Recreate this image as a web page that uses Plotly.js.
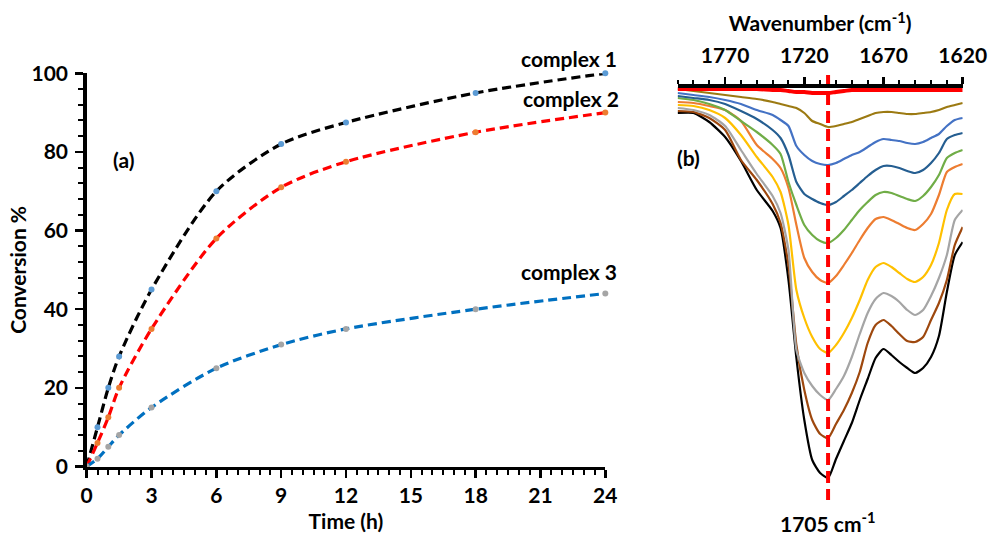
<!DOCTYPE html>
<html>
<head>
<meta charset="utf-8">
<script src="https://cdn.plot.ly/plotly-3.0.1.min.js"></script>
<style>html,body{margin:0;padding:0;background:#fff;}#chart{width:990px;height:539px;}</style>
</head>
<body>
<div id="chart"></div>
<script>
// ---------- Panel (a): conversion vs time ----------
const timeH = [0, 0.5, 1, 1.5, 3, 6, 9, 12, 18, 24];
const complex1 = [0, 10, 20, 28, 45, 70, 82, 87.5, 95, 100];
const complex2 = [0, 6, 12.5, 20, 35, 58, 71, 77.5, 85, 90];
const complex3 = [0, 2, 5, 8, 15, 25, 31, 35, 40, 44];
const seriesNames = ["complex 1", "complex 2", "complex 3"];

// ---------- Panel (b): IR spectra (arbitrary transmittance units) ----------
const wavenumber = [1800,1790,1780,1770,1760,1750,1740,1735,1730,1725,1720,1715,1710,1705,1700,1695,1690,1685,1680,1675,1670,1665,1660,1655,1650,1645,1640,1635,1630,1625,1620];
const specRed    = [98.75,98.75,98.75,98.75,98.75,98.75,98.5,98.5,98.25,98,98,97.75,97.75,97.75,98,98.25,98.5,98.5,98.5,98.5,98.5,98.5,98.5,98.5,98.5,98.5,98.5,98.5,98.5,98.5,98.5];
const specOlive  = [98.75,98.25,97.75,97.25,96.75,96.25,95.5,95,94.5,94,92.75,90.75,90,89.25,89.5,90,90.5,91.25,92,92.75,93,93,92.75,92.5,92.5,92.75,93,93.5,94.25,94.75,95.25];
const specLBlue  = [97.75,97.25,96.75,96,95,93.5,92.25,91,89.5,84.5,82.25,80.75,80,79.75,80.25,81.25,82.25,83,84.25,85.5,86.25,86,85.75,85.25,85,85.5,86.5,87.5,89.5,91,91.5];
const specDBlue  = [97,96.5,96,95,93.25,91.25,88.5,86.5,82.25,75.5,72.5,71.25,70.25,69.75,70.5,72,73.5,75.25,77,78.5,79.5,79.5,79,78.25,77.75,78.5,80.25,82.75,86.25,87.25,87.75];
const specGreen  = [96.5,96,95,93.5,90.75,88,84.75,82.5,75.5,69.75,64.75,62.25,60.75,60.25,61.5,63.5,66,68.5,70.5,72.25,73,72.75,72,71.25,70.75,72,74.25,77.25,81.5,82.75,83.5];
const specOrange = [95.5,95.25,94.5,93.5,90.75,84.75,81.25,79,74,64.75,56.5,53,51,50.25,52,54.75,57.75,61,64,66.25,66.75,66,65,64,63.5,65,67.5,72.25,78,79.25,80];
const specYellow = [94.75,94.5,93.5,91.5,87.25,81.75,76.75,73,64.75,48.5,41.5,36.75,33.75,32.75,34.75,37.75,41.5,46,51,54.25,55.25,54.25,52.75,51.25,50.5,51.75,54.75,60.25,68.5,72.5,72.5];
const specGray   = [94,93.5,92.25,89.5,83.5,77.5,72,67.75,58.5,33.5,27.75,24.5,22.25,21,23.75,27,31.75,37.5,42.75,46.25,47.75,47,45.5,43.5,42.25,43.5,47,51.5,57.25,66,68.5];
const specBrown  = [93.25,93,91.5,88.5,81,76,70,65.25,54.75,34.75,23.5,16,12.5,11.5,15,18.5,22.75,28,35.25,39.75,41,39.5,37.5,35.75,35.5,36.75,41,45.25,51,59.75,64.25];
const specBlack  = [92.75,92.75,90.5,86.75,80.75,73.5,68.25,64,51,31.5,16,6,2.75,1.5,6.25,10.75,15.25,21,26.25,31.5,33.75,32.25,30.5,29,27.75,29,31.75,37,48,57.25,60.5];
const peakWavenumber = 1705;
const peakLine = [102.25, -4];
const xTicksB = [1770, 1720, 1670, 1620];

const FONT = "Lato, 'Open Sans', sans-serif";
const bold = (s) => ({family: FONT, size: s, color: "#000", weight: 700});

const traces = [];
const lineColors = ["#000000", "#FF0000", "#0070C0"];
const markerColors = ["#5B9BD5", "#ED7D31", "#A5A5A5"];
[complex1, complex2, complex3].forEach((ys, i) => {
  traces.push({
    x: timeH, y: ys, name: seriesNames[i], type: "scatter", mode: "lines+markers",
    line: {color: lineColors[i], width: 3.2, dash: "9px,5px", shape: "spline", smoothing: 0.8},
    marker: {color: markerColors[i], size: 6},
    xaxis: "x", yaxis: "y", cliponaxis: false
  });
});

const specs = [
  [specBlack, "#000000"], [specBrown, "#9E480E"], [specGray, "#A5A5A5"], [specYellow, "#FFC000"],
  [specOrange, "#ED7D31"], [specGreen, "#70AD47"], [specDBlue, "#255E91"], [specLBlue, "#4472C4"],
  [specOlive, "#9C7A12"]
];
specs.forEach(([ys, c]) => {
  traces.push({x: wavenumber, y: ys, type: "scatter", mode: "lines",
    line: {color: c, width: 2.2, shape: "spline", smoothing: 0.6}, xaxis: "x2", yaxis: "y2"});
});
traces.push({x: wavenumber, y: specRed, type: "scatter", mode: "lines",
  line: {color: "#FF0000", width: 4, shape: "spline"}, xaxis: "x2", yaxis: "y2"});
traces.push({x: [peakWavenumber, peakWavenumber], y: peakLine, type: "scatter", mode: "lines",
  line: {color: "#FF0000", width: 4, dash: "12px,6px"}, xaxis: "x2", yaxis: "y2"});

const H = 539, W = 990;
const layout = {
  width: W, height: H,
  margin: {l: 0, r: 0, t: 0, b: 0},
  paper_bgcolor: "#fff", plot_bgcolor: "rgba(0,0,0,0)",
  showlegend: false,
  font: {family: FONT, size: 21, color: "#000"},
  xaxis: {
    domain: [86.7 / W, 605.3 / W], range: [0, 24], anchor: "y",
    tickmode: "linear", tick0: 0, dtick: 3,
    showline: true, linecolor: "#000", linewidth: 3.5,
    ticks: "outside", ticklen: 8, tickwidth: 2.5, tickcolor: "#000",
    minor: {dtick: 0.5, ticks: "outside", ticklen: 5, tickwidth: 2, tickcolor: "#000"},
    showgrid: false, zeroline: false, tickfont: bold(21),
    title: {text: "Time (h)", font: bold(21), standoff: 9}
  },
  yaxis: {
    domain: [1 - 466.5 / H, 1 - 73.3 / H], range: [0, 100], anchor: "x",
    tickmode: "linear", tick0: 0, dtick: 20,
    showline: true, linecolor: "#000", linewidth: 3.5,
    ticks: "outside", ticklen: 8, tickwidth: 2.5, tickcolor: "#000", ticklabelstandoff: 3,
    minor: {dtick: 4, ticks: "outside", ticklen: 5, tickwidth: 2, tickcolor: "#000"},
    showgrid: false, zeroline: false, tickfont: bold(21),
    title: {text: "Conversion %", font: bold(21), standoff: 0}
  },
  xaxis2: {
    domain: [677.6 / W, 962.7 / W], range: [1800, 1620], anchor: "free", position: 1 - 85 / H,
    side: "top", tickmode: "array", tickvals: xTicksB,
    showline: true, linecolor: "#000", linewidth: 3.5, layer: "above traces",
    ticks: "outside", ticklen: 7, tickwidth: 2.5, tickcolor: "#000", ticklabelstandoff: 6,
    minor: {tick0: 1800, dtick: 10, ticks: "outside", ticklen: 4, tickwidth: 2, tickcolor: "#000"},
    showgrid: false, zeroline: false, tickfont: bold(21),
    title: {text: "Wavenumber (cm<sup>-1</sup>)", font: bold(21), standoff: 2}
  },
  yaxis2: {
    domain: [0, 1], range: [(484 - 539) / 4, 484 / 4], anchor: "x2",
    visible: false, showgrid: false, zeroline: false
  },
  annotations: [
    {xref: "x", yref: "y", x: 22.3, y: 100, text: "complex 1", showarrow: false, yshift: 15, font: bold(21)},
    {xref: "x", yref: "y", x: 22.4, y: 90, text: "complex 2", showarrow: false, yshift: 14, font: bold(21)},
    {xref: "x", yref: "y", x: 22.3, y: 44, text: "complex 3", showarrow: false, yshift: 22, font: bold(21)},
    {xref: "x", yref: "y", x: 1.7, y: 78.2, text: "(a)", showarrow: false, font: bold(21)},
    {xref: "x2", yref: "y2", x: 1793.4, y: 81.75, text: "(b)", showarrow: false, font: bold(21)},
    {xref: "x2", yref: "y2", x: peakWavenumber, y: -9.5, text: "1705 cm<sup>-1</sup>", showarrow: false, font: bold(21)}
  ]
};

Plotly.newPlot("chart", traces, layout, {displayModeBar: false, staticPlot: true});
</script>
</body>
</html>
